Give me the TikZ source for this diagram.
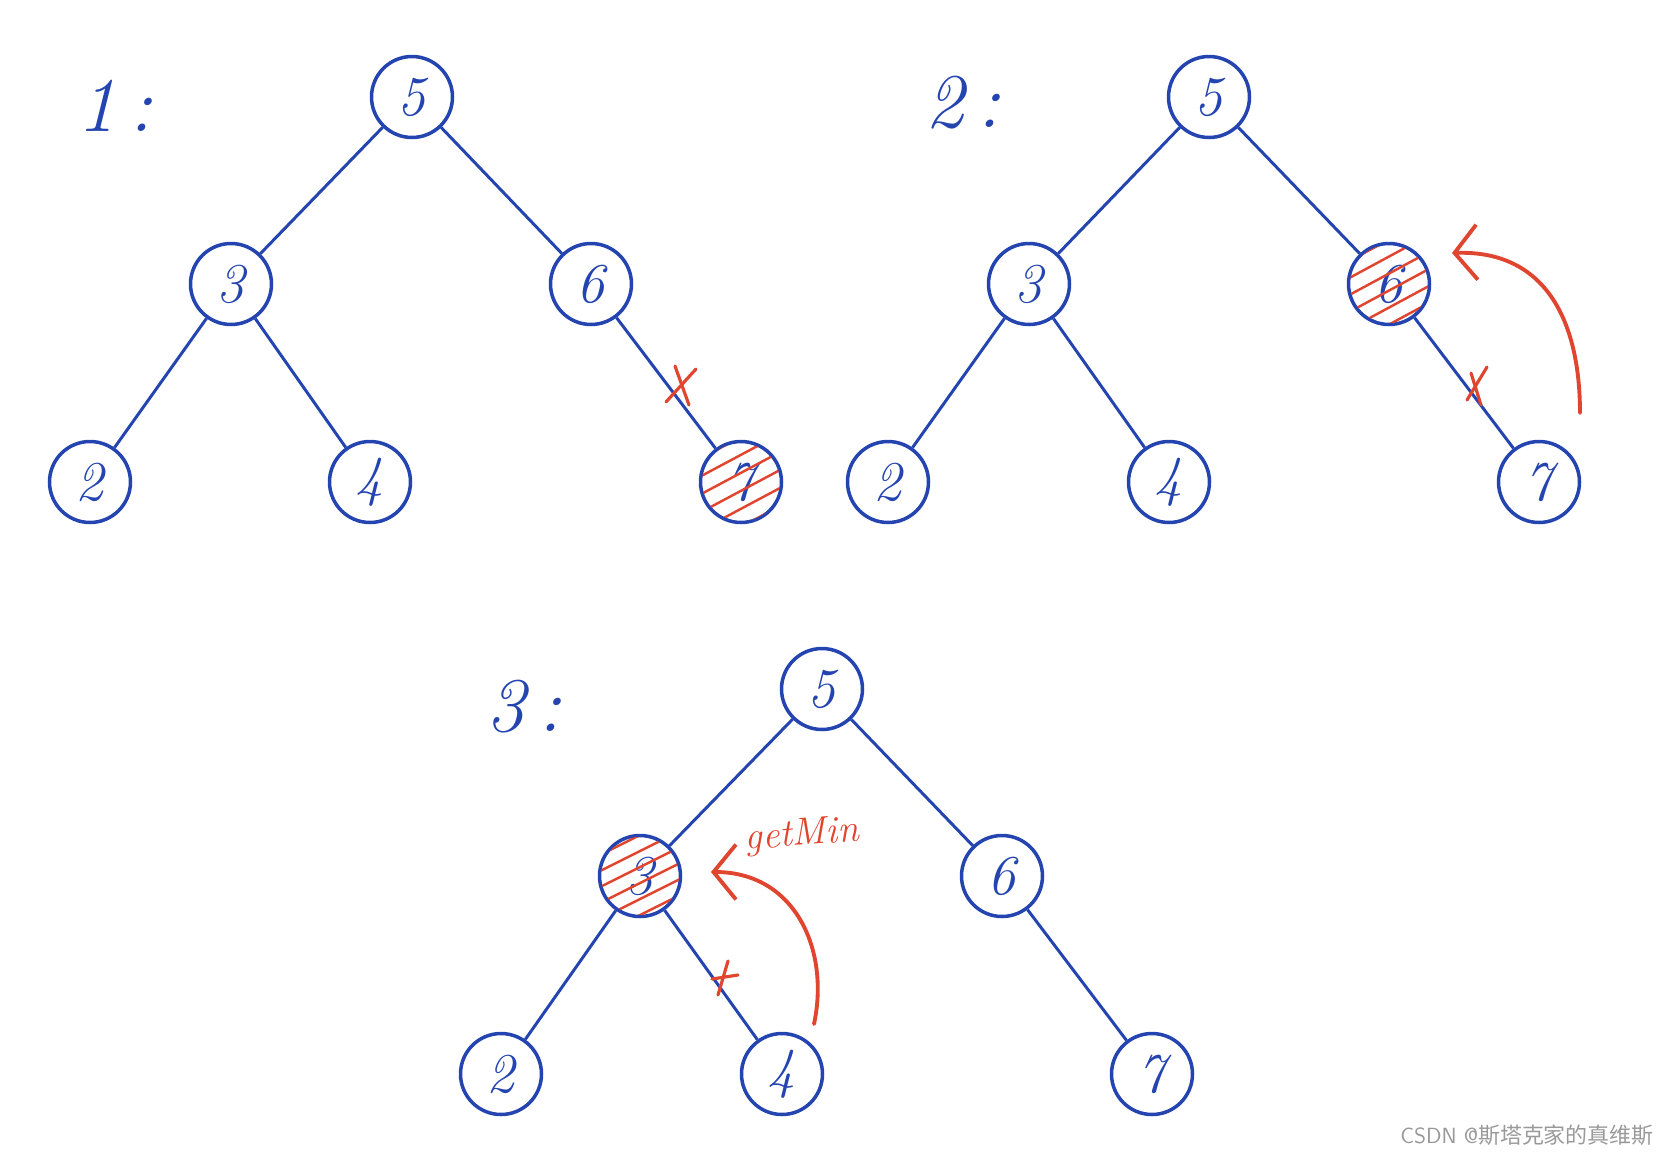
\documentclass[tikz,border=0pt]{standalone}
\usepackage{fontspec}
\newfontfamily\cjk{Noto Sans CJK SC}
\usetikzlibrary{arrows.meta,calc}
\definecolor{penblue}{HTML}{2444B0}
\definecolor{penred}{HTML}{E0452F}
\begin{document}
\begin{tikzpicture}[x=0.02cm, y=-0.02cm,
    vertex/.style={circle, draw=penblue, line width=2pt, minimum size=1.62cm,
      inner sep=0pt, text=penblue, font=\fontsize{32}{32}\selectfont\itshape},
    branch/.style={draw=penblue, line width=1.7pt},
    cutmark/.style={draw=penred, line width=1.8pt, line cap=round},
    hatch/.style={draw=penred, line width=1.4pt},
    pull/.style={draw=penred, line width=2.2pt, line cap=round,
      -{Straight Barb[length=0.45cm, width=1.1cm, line width=2.2pt]}},
    steplabel/.style={text=penblue, font=\fontsize{44}{44}\selectfont\itshape}]
  \useasboundingbox (0,0) rectangle (1668,1157);

  % tree 1
  \node[steplabel] (l1) at (115,106) {1\,:};
  \node[vertex] (a5) at (412,97) {5};
  \node[vertex] (a3) at (231,284) {3};
  \node[vertex] (a6) at (591,284) {6};
  \node[vertex] (a2) at (90,482) {2};
  \node[vertex] (a4) at (370,482) {4};
  \node[vertex] (a7) at (741,482) {7};
  \begin{scope}
    \clip (741,482) circle (39);
    \foreach \k in {-2,...,3}
      \draw[hatch] (690,{500+18*\k}) -- (795,{444+18*\k});
  \end{scope}
  \draw[branch] (a5) -- (a3);
  \draw[branch] (a5) -- (a6);
  \draw[branch] (a3) -- (a2);
  \draw[branch] (a3) -- (a4);
  \draw[branch] (a6) -- (a7);
  \coordinate (x1) at (682,385);
  \draw[cutmark] ($(x1)+(-16,17)$) -- ($(x1)+(14,-16)$);
  \draw[cutmark] ($(x1)+(-7,-19)$) -- ($(x1)+(7,20)$);

  % tree 2
  \node[steplabel] (l2) at (963,103) {2\,:};
  \node[vertex] (b5) at (1209,97) {5};
  \node[vertex] (b3) at (1029,284) {3};
  \node[vertex] (b6) at (1389,284) {6};
  \node[vertex] (b2) at (888,482) {2};
  \node[vertex] (b4) at (1169,482) {4};
  \node[vertex] (b7) at (1539,482) {7};
  \begin{scope}
    \clip (1389,284) circle (39);
    \foreach \k in {-2,...,3}
      \draw[hatch] (1340,{300+17*\k}) -- (1440,{246+17*\k});
  \end{scope}
  \draw[branch] (b5) -- (b3);
  \draw[branch] (b5) -- (b6);
  \draw[branch] (b3) -- (b2);
  \draw[branch] (b3) -- (b4);
  \draw[branch] (b6) -- (b7);
  \coordinate (x2) at (1477,385);
  \draw[cutmark] ($(x2)+(-10,15)$) -- ($(x2)+(10,-18)$);
  \draw[cutmark] ($(x2)+(-6,-12)$) -- ($(x2)+(4,20)$);
  \coordinate (s2) at (1580,413);
  \coordinate (e2) at (1452,253);
  \draw[pull] (s2) .. controls (1580,320) and (1545,250) .. (e2);

  % tree 3
  \node[steplabel] (l3) at (524,707) {3\,:};
  \node[vertex] (c5) at (822,689) {5};
  \node[vertex] (c3) at (640,876) {3};
  \node[vertex] (c6) at (1002,876) {6};
  \node[vertex] (c2) at (501,1074) {2};
  \node[vertex] (c4) at (782,1074) {4};
  \node[vertex] (c7) at (1152,1074) {7};
  \begin{scope}
    \clip (640,876) circle (39);
    \foreach \k in {-2,...,3}
      \draw[hatch] (590,{892+16*\k}) -- (690,{842+16*\k});
  \end{scope}
  \draw[branch] (c5) -- (c3);
  \draw[branch] (c5) -- (c6);
  \draw[branch] (c3) -- (c2);
  \draw[branch] (c3) -- (c4);
  \draw[branch] (c6) -- (c7);
  \coordinate (x3) at (724,977);
  \draw[cutmark] ($(x3)+(-12,2)$) -- ($(x3)+(14,-2)$);
  \draw[cutmark] ($(x3)+(4,-16)$) -- ($(x3)+(-6,18)$);
  \coordinate (s3) at (814,1024);
  \coordinate (e3) at (711,872);
  \draw[pull] (s3) .. controls (830,950) and (795,872) .. (e3);
  \node[text=penred, rotate=4, font=\fontsize{22}{22}\selectfont\itshape] (gm) at (802,836) {getMin};

  \node[text=black!40, anchor=east, font=\fontsize{12.5}{12.5}\selectfont\sffamily] (wm) at (1660,1135) {CSDN @{\cjk 斯塔克家的真维斯}};
\end{tikzpicture}
\end{document}
